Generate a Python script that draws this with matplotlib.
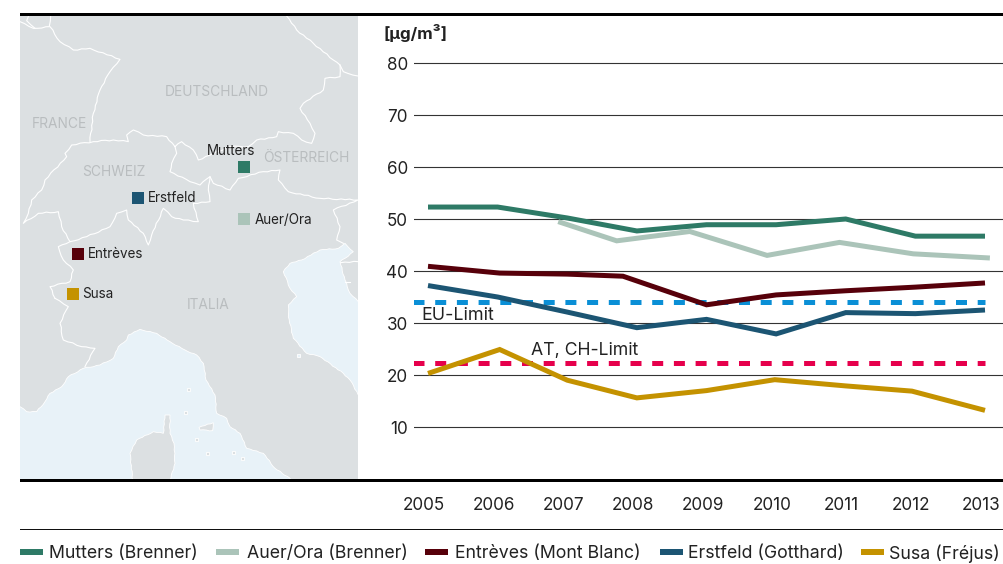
import matplotlib
matplotlib.use("Agg")
import matplotlib.pyplot as plt
from matplotlib.patches import Polygon, Rectangle
from matplotlib.transforms import ScaledTranslation
import numpy as np

plt.rcParams['font.family'] = ['Inter', 'DejaVu Sans']

# ---- data ----
years = [2005, 2006, 2007, 2008, 2009, 2010, 2011, 2012, 2013]
year_labels = [str(y) for y in years]
yticks = [10, 20, 30, 40, 50, 60, 70, 80]

mutters = [52.3, 52.3, 50.2, 47.7, 48.9, 48.9, 50.0, 46.7, 46.7]
auer_years = [2006.87, 2007.71, 2008.76, 2009.87, 2010.91, 2011.97, 2013.07]
auer = [49.5, 45.8, 47.6, 43.0, 45.5, 43.3, 42.5]
entreves_years = [2005, 2006.03, 2007, 2007.8, 2009, 2010, 2011, 2012, 2013]
entreves = [40.9, 39.6, 39.4, 39.0, 33.5, 35.4, 36.2, 36.9, 37.7]
erstfeld = [37.2, 35.0, 32.1, 29.1, 30.7, 27.9, 32.0, 31.8, 32.5]
susa_years = [2005, 2006.03, 2007, 2008, 2009, 2009.98, 2011, 2011.95, 2013]
susa = [20.3, 24.9, 19.0, 15.6, 17.0, 19.1, 17.9, 16.9, 13.2]
eu_limit = 34.1
ch_limit = 22.3

C_MUT, C_AUE, C_ENT, C_ERS, C_SUS = '#2E7A66', '#ABC4B9', '#57000A', '#1C5573', '#C49200'
series_names = ['Mutters (Brenner)', 'Auer/Ora (Brenner)', 'Entrèves (Mont Blanc)', 'Erstfeld (Gotthard)', 'Susa (Fréjus)']
series_colors = [C_MUT, C_AUE, C_ENT, C_ERS, C_SUS]

W, H = 1004, 564
fig = plt.figure(figsize=(W / 100, H / 100), dpi=100)

# ---- pixel overlay: map, frame, legend ----
bg = fig.add_axes([0, 0, 1, 1])
bg.set_xlim(0, W); bg.set_ylim(H, 0); bg.axis('off')

LAND, SEA, DARK = '#DCE0E2', '#E8F2F8', '#222222'
frame = Rectangle((20, 15), 338, 465, fc=LAND, ec='none', zorder=1)
bg.add_patch(frame)

def z1(pts):
    return [(x / 3, y / 3) for x, y in pts]
def z2(pts):
    return [(x / 3, 280 + y / 3) for x, y in pts]
def z3(pts):
    return [(270 + x / 3, 230 + y / 3) for x, y in pts]

def wiggle(pts, amp=0.55, step=4.0):
    """Give a hand-traced outline the small kinks of a real border."""
    out = []
    k = 0
    for (x0, y0), (x1, y1) in zip(pts[:-1], pts[1:]):
        d = max(np.hypot(x1 - x0, y1 - y0), 1e-6)
        n = max(int(d / step), 1)
        nx, ny = -(y1 - y0) / d, (x1 - x0) / d
        for i in range(n):
            t = i / n
            a = 0 if i == 0 else amp * [1, -0.6, 0.4, -1, 0.7][k % 5]
            k += 1
            out.append((x0 + (x1 - x0) * t + nx * a, y0 + (y1 - y0) * t + ny * a))
    out.append(pts[-1])
    return out

west_sea = z2([(40, 378), (60, 380), (80, 395), (110, 395), (135, 365), (150, 340), (185, 320), (205, 290), (250, 265), (300, 255),
               (340, 235), (355, 200), (380, 180), (385, 165), (420, 148), (470, 160), (510, 185), (555, 210), (590, 225),
               (610, 250), (618, 300), (645, 345), (650, 400), (680, 415), (690, 440), (720, 460), (740, 505), (790, 520),
               (825, 565), (870, 595), (880, 620), (40, 620)])
adriatic = (z3([(110, 370), (70, 325), (55, 260), (55, 225), (80, 200), (60, 175), (40, 125), (60, 100), (95, 90),
                (150, 60), (205, 55), (225, 40), (250, 65), (225, 85), (210, 95), (225, 150), (240, 190), (265, 215), (285, 230)])
            + z2([(1090, 370), (1050, 300), (1030, 280), (960, 230)]))
corsica = z2([(400, 620), (390, 520), (410, 480), (460, 455), (490, 460), (495, 405), (510, 405), (510, 460), (522, 490),
              (525, 550), (505, 620)])
elba = z2([(597, 442), (640, 428), (638, 452), (600, 450)])
for poly, col in [(adriatic, SEA), (west_sea, SEA), (corsica, LAND), (elba, LAND)]:
    p = Polygon(wiggle(poly + poly[:1], amp=0.4, step=3.0), closed=True, fc=col, ec='white', lw=0.6, zorder=2)
    bg.add_patch(p)
    p.set_clip_path(frame)
for pt in [(565, 327), (556, 397), (590, 477), (622, 520), (700, 516), (728, 535), (895, 227)]:
    x, y = z2([pt])[0]
    bg.add_patch(Polygon([(x - 1.2, y - 1.5), (x + 1.2, y - 1.5), (x + 1.2, y + 1.5), (x - 1.2, y + 1.5)],
                         fc=LAND if pt[0] != 895 else SEA, ec='white', lw=0.6, zorder=2))

borders = [
    z1([(60, 65), (100, 85), (150, 80), (180, 125), (220, 150), (270, 145), (360, 178), (330, 215), (300, 270), (280, 340), (270, 425)]),
    z1([(85, 50), (80, 62), (105, 85)]), z1([(152, 48), (148, 78)]),
    z1([(860, 48), (890, 90), (940, 130), (1000, 180), (1020, 195), (1030, 215), (1074, 228)]),
    z1([(1020, 195), (1020, 230), (975, 235), (970, 270), (910, 310), (900, 325), (930, 370), (945, 400), (935, 430), (905, 420),
        (880, 400), (835, 395), (830, 410), (770, 420), (745, 440), (690, 440), (640, 460), (595, 480), (580, 450), (545, 425),
        (525, 440), (500, 410), (430, 405), (400, 390), (380, 405), (385, 425), (340, 420), (280, 425), (215, 435), (195, 460),
        (200, 470), (135, 540), (125, 570), (95, 600), (85, 640), (70, 670), (115, 640), (175, 635), (185, 680), (210, 725),
        (260, 710), (330, 680), (350, 640), (380, 630), (385, 660), (430, 700), (445, 735), (455, 705), (490, 625), (515, 650),
        (550, 660), (595, 665), (580, 610), (630, 605), (625, 570), (630, 530), (600, 555), (570, 545), (510, 515), (515, 490),
        (530, 460), (525, 440)]),
    z1([(630, 530), (640, 550), (690, 570), (715, 535), (790, 515), (840, 510), (835, 540), (865, 575), (960, 595), (1074, 600),
        (1000, 630), (1020, 680), (1010, 720), (1030, 730)]),
    z1([(210, 725), (175, 740), (190, 780), (220, 810), (210, 845), (150, 860), (165, 895)]),
    z2([(165, 55), (205, 80), (180, 130), (190, 180), (245, 200), (285, 205), (255, 260)]),
    z3([(212, 98), (265, 95)]), z3([(225, 155), (240, 155)]),
]
for b in borders:
    xs, ys = zip(*wiggle(b))
    bg.plot(xs, ys, color='white', lw=0.8, zorder=3, solid_joinstyle='round')

for name, x, y in [('DEUTSCHLAND', 217, 92), ('FRANCE', 59, 124), ('SCHWEIZ', 114, 172), ('ÖSTERREICH', 306, 158), ('ITALIA', 208, 305)]:
    bg.text(x, y, name, color='#B9BDBF', fontsize=9.9, ha='center', va='center', zorder=4)

for col, mx, my, name, tx, ty, ha in [
    (C_MUT, 238, 161, 'Mutters', 231, 151, 'center'),
    (C_ERS, 132, 192, 'Erstfeld', 148, 198, 'left'),
    (C_AUE, 238, 213, 'Auer/Ora', 255, 220, 'left'),
    (C_ENT, 72, 248, 'Entrèves', 88, 254, 'left'),
    (C_SUS, 67, 288, 'Susa', 82, 294, 'left')]:
    bg.add_patch(Rectangle((mx, my), 12, 12, fc=col, ec='none', zorder=5))
    bg.text(tx, ty, name, color=DARK, fontsize=9.7, ha=ha, va='center', zorder=5)

bg.add_patch(Rectangle((20, 13), 984, 3, fc='black', ec='none', zorder=6))
bg.add_patch(Rectangle((20, 479), 984, 3, fc='black', ec='none', zorder=6))
bg.add_patch(Rectangle((20, 529), 984, 1, fc='#111111', ec='none', zorder=6))

leg_sw = [20, 216, 425, 660, 861]
leg_tx = [49, 247, 455, 688, 889]
for s, t, name, col in zip(leg_sw, leg_tx, series_names, series_colors):
    bg.add_patch(Rectangle((s, 549), 23, 6, fc=col, ec='none', zorder=6))
    bg.text(t, 554, name, color=DARK, fontsize=12.75, ha='left', va='center', zorder=6)

# ---- chart ----
L, R, T, B = 414, 1004, 15, 479
ax = fig.add_axes([L / W, 1 - B / H, (R - L) / W, (B - T) / H])
ax.patch.set_alpha(0)
PX_Y = 5.2
PX_X = (985 - 428) / 8
ax.set_ylim(0, (B - T) / PX_Y)
ax.set_xlim(2005 - (428 - L) / PX_X, 2005 + (R - 428) / PX_X)
for s in ax.spines.values():
    s.set_visible(False)
ax.set_yticks(yticks)
ax.set_xticks(years)
ax.set_xticklabels(year_labels)
ax.grid(axis='y', color='#333333', lw=0.8, zorder=1)
ax.set_axisbelow(True)
ax.tick_params(axis='both', length=0, labelsize=12.3, labelcolor=DARK)
ax.tick_params(axis='y', pad=4.5)
ax.tick_params(axis='x', pad=13)
off = ScaledTranslation(-4 / 100, 0, fig.dpi_scale_trans)
for lab in ax.get_xticklabels():
    lab.set_transform(lab.get_transform() + off)

lw = 3.6
dash = dict(lw=3.6, linestyle=(0, (11 / 5, 10.7 / 5)), dash_capstyle='butt')
x_lim = [2005 - 15 / PX_X, 2013]
ax.plot(x_lim, [eu_limit, eu_limit], color='#0A8FD6', zorder=2, **dash)
ax.plot(x_lim, [ch_limit, ch_limit], color='#E6004C', zorder=2, **dash)
kw = dict(lw=lw, solid_capstyle='butt', solid_joinstyle='miter')
ax.plot(auer_years, auer, color=C_AUE, zorder=3, **kw)
ax.plot(years, mutters, color=C_MUT, zorder=4, **kw)
ax.plot(entreves_years, entreves, color=C_ENT, zorder=4, **kw)
ax.plot(years, erstfeld, color=C_ERS, zorder=4, **kw)
ax.plot(susa_years, susa, color=C_SUS, zorder=4, **kw)

bg.text(421, 315, 'EU-Limit', color=DARK, fontsize=12.9, ha='left', va='center', zorder=7)
bg.text(531, 351, 'AT, CH-Limit', color=DARK, fontsize=12.7, ha='left', va='center', zorder=7)
bg.text(384, 33, '[µg/m³]', color=DARK, fontsize=12.2, fontweight='bold', ha='left', va='center', zorder=7)

fig.savefig('out.png', dpi=100)
